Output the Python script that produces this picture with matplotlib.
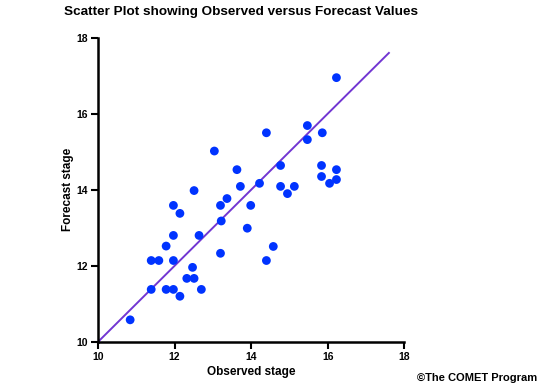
import matplotlib
matplotlib.use("Agg")
import matplotlib.pyplot as plt

# observed vs forecast stage
observed = [10.84, 11.39, 11.78, 11.97, 12.14, 12.70, 12.32, 12.51, 12.47, 11.39,
            11.59, 11.97, 11.78, 11.97, 12.64, 13.20, 13.22, 13.90, 13.04, 13.63,
            13.72, 12.51, 13.37, 13.20, 13.99, 11.97, 12.14, 16.23, 14.40, 15.47,
            15.86, 15.47, 14.77, 15.84, 16.23, 15.84, 16.23, 16.05, 14.22, 14.77,
            15.13, 14.95, 14.58, 14.40]
forecast = [10.58, 11.38, 11.38, 11.38, 11.20, 11.38, 11.67, 11.67, 11.96, 12.14,
            12.14, 12.14, 12.52, 12.80, 12.80, 12.33, 13.18, 12.99, 15.02, 14.53,
            14.09, 13.98, 13.77, 13.59, 13.59, 13.59, 13.38, 16.95, 15.50, 15.69,
            15.50, 15.32, 14.64, 14.64, 14.53, 14.35, 14.27, 14.17, 14.17, 14.09,
            14.09, 13.90, 12.51, 12.14]
line_x = [10, 17.6]
line_y = [10, 17.6]
ticks = [10, 12, 14, 16, 18]

plt.rcParams['font.family'] = ['Liberation Sans', 'DejaVu Sans']
plt.rcParams['font.weight'] = 'bold'

fig = plt.figure(figsize=(5.4, 3.85), dpi=100)
ax = fig.add_axes([0.1815, 0.112, 0.567, 0.79])

ax.plot(line_x, line_y, color='#7236d2', lw=1.4, zorder=2)
ax.scatter(observed, forecast, s=40, color='#0033ff', edgecolors='none', zorder=3)

ax.set_xlim(10, 18)
ax.set_ylim(10, 18)
ax.set_xticks(ticks)
ax.set_yticks(ticks)
ax.tick_params(width=1.5, length=5, labelsize=7.5, pad=2)
for lab in ax.get_xticklabels() + ax.get_yticklabels():
    lab.set_fontweight('bold')

ax.spines['top'].set_visible(False)
ax.spines['right'].set_visible(False)
ax.spines['left'].set_linewidth(1.8)
ax.spines['bottom'].set_linewidth(1.8)

ax.set_xlabel('Observed stage', fontsize=8.5, fontweight='bold', labelpad=3)
ax.set_ylabel('Forecast stage', fontsize=8.5, fontweight='bold', labelpad=2)

fig.text(0.447, 0.968, 'Scatter Plot showing Observed versus Forecast Values',
         ha='center', va='center', fontsize=9.7, fontweight='bold')
fig.text(0.995, 0.005, '\u00a9The COMET Program', ha='right', va='bottom',
         fontsize=8, fontweight='bold')

fig.savefig('out.png', dpi=100)
